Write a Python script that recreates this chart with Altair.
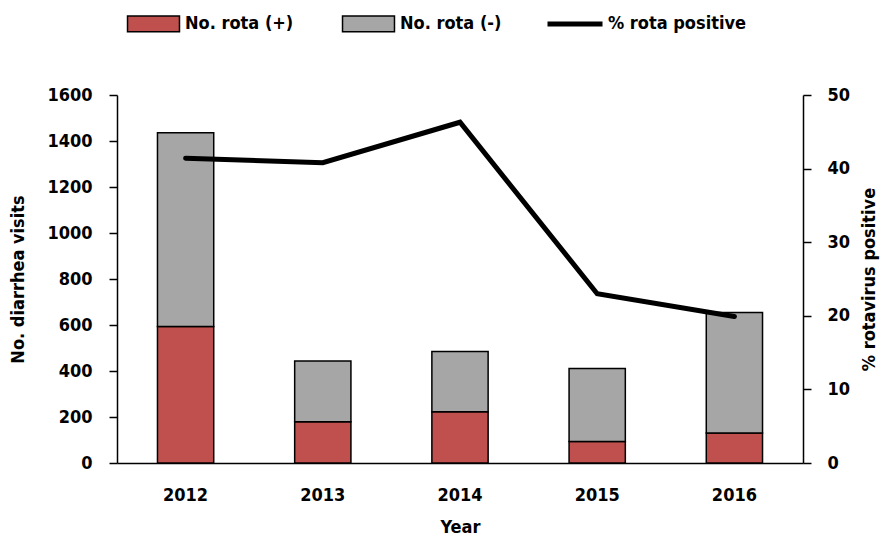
import altair as alt
import pandas as pd

years = ["2012", "2013", "2014", "2015", "2016"]
rota_pos = [593, 179, 223, 93, 130]
rota_neg = [843, 264, 262, 318, 524]
pct_pos = [41.4, 40.8, 46.3, 23.0, 19.9]

bar_df = pd.DataFrame({
    "Year": years * 2,
    "count": rota_pos + rota_neg,
    "series": ["No. rota (+)"] * 5 + ["No. rota (-)"] * 5,
    "ord": [0] * 5 + [1] * 5,
})
line_df = pd.DataFrame({"Year": years, "pct": pct_pos, "series": ["% rota positive"] * 5})

FONT = "DejaVu Sans Condensed, Open Sans, sans-serif"

xenc = alt.X("Year:N", sort=years,
             scale=alt.Scale(paddingInner=0.59, paddingOuter=0.295),
             axis=alt.Axis(title="Year", labelAngle=0, ticks=False, labelPadding=23,
                           titlePadding=14, domainColor="black", domainWidth=1.5))

bars = alt.Chart(bar_df).mark_bar(stroke="black", strokeWidth=1.5).encode(
    x=xenc,
    y=alt.Y("count:Q", stack="zero",
            scale=alt.Scale(domain=[0, 1600], nice=False),
            axis=alt.Axis(title="No. diarrhea visits", values=list(range(0, 1601, 200)),
                          format="d", grid=False, tickSize=8, tickColor="black",
                          domainColor="black", domainWidth=1.5, tickWidth=1.5,
                          labelPadding=17, titlePadding=19)),
    color=alt.Color("series:N", sort=["No. rota (+)", "No. rota (-)"],
                    scale=alt.Scale(domain=["No. rota (+)", "No. rota (-)"],
                                    range=["#c0504d", "#a6a6a6"]),
                    legend=alt.Legend(title=None, orient="none", direction="horizontal",
                                      legendX=18, legendY=-90,
                                      symbolType="M-1.5,-0.45L1.5,-0.45L1.5,0.45L-1.5,0.45Z",
                                      symbolSize=1200, symbolStrokeColor="black",
                                      symbolStrokeWidth=1.5, symbolOpacity=1,
                                      labelOffset=13, columnPadding=45)),
    order=alt.Order("ord:Q"),
)

line = alt.Chart(line_df).mark_line(strokeWidth=5, strokeCap="round", strokeJoin="miter").encode(
    x=alt.X("Year:N", sort=years),
    y=alt.Y("pct:Q", scale=alt.Scale(domain=[0, 50], nice=False),
            axis=alt.Axis(title="% rotavirus positive", orient="right",
                          values=list(range(0, 51, 10)), grid=False, tickSize=8,
                          tickColor="black", domainColor="black", domainWidth=1.5,
                          tickWidth=1.5, labelPadding=16, titlePadding=29, titleAngle=270)),
    stroke=alt.Stroke("series:N", scale=alt.Scale(range=["black"]),
                      legend=alt.Legend(title=None, orient="none", legendX=428, legendY=-101,
                                        symbolType="stroke", symbolSize=3025,
                                        symbolStrokeWidth=5, labelOffset=3)),
)

chart = alt.layer(bars, line).resolve_scale(y="independent", color="independent").properties(
    width=686, height=368,
    autosize=alt.AutoSizeParams(type="none"),
    padding={"left": 109, "top": 87, "right": 77, "bottom": 73},
).configure_view(stroke=None).configure_axis(
    labelFont=FONT, titleFont=FONT, labelFontSize=18, titleFontSize=18,
    labelFontWeight="bold", titleFontWeight="bold", labelColor="black", titleColor="black",
).configure_legend(
    labelFont=FONT, labelFontSize=18, labelFontWeight="bold", labelColor="black",
)

chart.save("out.html", embed_options={"renderer": "svg", "actions": False})
